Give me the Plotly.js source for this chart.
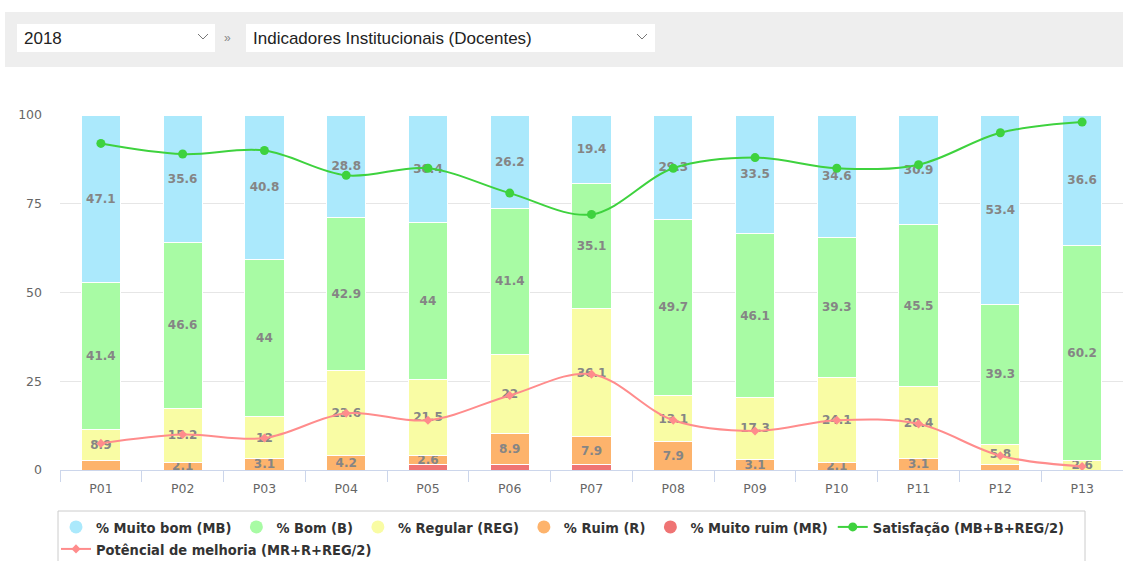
<!DOCTYPE html>
<html>
<head>
<meta charset="utf-8">
<script src="https://cdn.plot.ly/plotly-3.0.1.min.js"></script>
<style>
  body { margin: 0; background: #ffffff; }
  #chart { position: absolute; left: 0; top: 0; width: 1123px; height: 561px; }
  #hdr { position: absolute; left: 5px; top: 12px; width: 1118px; height: 55px; background: #eeeeee; z-index: 5;
         font-family: "Liberation Sans", Arial, sans-serif; }
  .sel { position: absolute; top: 12px; height: 28px; background: #ffffff; color: #222222; font-size: 17px; line-height: 29px; }
  .sel span { position: absolute; left: 7px; top: 0; }
  .sel svg { position: absolute; top: 9px; }
  #sep { position: absolute; left: 219px; top: 12px; line-height: 29px; font-size: 12px; color: #888888; }
</style>
</head>
<body>
<div id="chart"></div>
<div id="hdr">
  <div class="sel" style="left:12px;width:198px;"><span id="yearTxt"></span>
    <svg width="12" height="8" style="left:180px"><polyline points="1,1 6,6 11,1" fill="none" stroke="#777" stroke-width="1"/></svg>
  </div>
  <div id="sep">&raquo;</div>
  <div class="sel" style="left:241px;width:409px;"><span id="viewTxt"></span>
    <svg width="12" height="8" style="left:390px"><polyline points="1,1 6,6 11,1" fill="none" stroke="#777" stroke-width="1"/></svg>
  </div>
</div>
<script>
// ---------- data ----------
const yearLabel = '2018';
const viewLabel = 'Indicadores Institucionais (Docentes)';
const categories = ['P01','P02','P03','P04','P05','P06','P07','P08','P09','P10','P11','P12','P13'];
const muitoBom   = [47.1, 35.6, 40.8, 28.8, 30.4, 26.2, 19.4, 29.3, 33.5, 34.6, 30.9, 53.4, 36.6];
const bom        = [41.4, 46.6, 44, 42.9, 44, 41.4, 35.1, 49.7, 46.1, 39.3, 45.5, 39.3, 60.2];
const regular    = [8.9, 15.2, 12, 23.6, 21.5, 22, 36.1, 13.1, 17.3, 24.1, 20.4, 5.8, 2.6];
const ruim       = [2.6, 2.1, 3.1, 4.2, 2.6, 8.9, 7.9, 7.9, 3.1, 2.1, 3.1, 1.5, 0];
const muitoRuim  = [0, 0, 0, 0, 1.5, 1.5, 1.5, 0, 0, 0, 0, 0, 0];
const satisfacao = [92, 89, 90, 83, 85, 78, 72, 85, 88, 85, 86, 95, 98];
const potencial  = [7.5, 10, 9, 16, 14, 21, 27, 14, 11, 14, 13, 4, 1];
const ruimHiddenLabels = ['P01', 'P12'];
const yTicks = [0, 25, 50, 75, 100];
const seriesNames = ['% Muito bom (MB)', '% Bom (B)', '% Regular (REG)', '% Ruim (R)', '% Muito ruim (MR)',
                     'Satisfação (MB+B+REG/2)', 'Potêncial de melhoria (MR+R+REG/2)'];

document.getElementById('yearTxt').textContent = yearLabel;
document.getElementById('viewTxt').textContent = viewLabel;

// ---------- styles ----------
const colors = { mb: '#abe9fc', b: '#a8fba4', reg: '#f9fca4', r: '#fdb36c', mr: '#ef7474', sat: '#3ed23e', pot: '#ff8c8c' };
const labelFont = { family: 'DejaVu Sans, sans-serif', size: 12, color: '#858585', weight: 'bold' };
const legendFont = { family: 'DejaVu Sans Condensed, DejaVu Sans, sans-serif', size: 14.5, color: '#333333', weight: 'bold' };

function barTrace(vals, color, labels) {
  return {
    type: 'bar', x: categories, y: vals,
    marker: { color: color, line: { color: '#ffffff', width: 1 } },
    text: labels, textposition: 'inside', insidetextanchor: 'middle', constraintext: 'none', textangle: 0,
    textfont: labelFont, showlegend: false, hoverinfo: 'x+y'
  };
}
const noLabels = categories.map(() => '');
const toLabels = arr => arr.map(v => v > 0 ? String(v) : '');
const ruimLabels = ruim.map((v, i) => (v > 0 && ruimHiddenLabels.indexOf(categories[i]) < 0) ? String(v) : '');

function legendDummy(name, color) {
  return { type: 'scatter', mode: 'markers', x: [null], y: [null], name: name, legend: 'legend',
           marker: { symbol: 'circle', size: 13, color: color }, hoverinfo: 'skip' };
}

const traces = [
  barTrace(muitoRuim, colors.mr, noLabels),
  barTrace(ruim, colors.r, ruimLabels),
  barTrace(regular, colors.reg, toLabels(regular)),
  barTrace(bom, colors.b, toLabels(bom)),
  barTrace(muitoBom, colors.mb, toLabels(muitoBom)),
  legendDummy(seriesNames[0], colors.mb),
  legendDummy(seriesNames[1], colors.b),
  legendDummy(seriesNames[2], colors.reg),
  legendDummy(seriesNames[3], colors.r),
  legendDummy(seriesNames[4], colors.mr),
  { type: 'scatter', mode: 'lines+markers', x: categories, y: satisfacao, name: seriesNames[5], legend: 'legend',
    line: { color: colors.sat, width: 2, shape: 'spline', smoothing: 1 },
    marker: { symbol: 'circle', size: 9, color: colors.sat } },
  { type: 'scatter', mode: 'lines+markers', x: categories, y: potencial, name: seriesNames[6], legend: 'legend2',
    line: { color: colors.pot, width: 2, shape: 'spline', smoothing: 1 },
    marker: { symbol: 'diamond', size: 7, color: colors.pot } }
];

const W = 1123, H = 561, ML = 60, MR = 0, MT = 115, MB = 91;
const PW = W - ML - MR, PH = H - MT - MB;
const px2x = px => (px - ML) / PW;
const px2y = py => (H - MB - py) / PH;
const cx = px => px / W;
const cy = py => (H - py) / H;

const layout = {
  width: W, height: H, autosize: false,
  margin: { l: ML, r: MR, t: MT, b: MB, pad: 0, autoexpand: false },
  paper_bgcolor: '#ffffff', plot_bgcolor: '#ffffff',
  barmode: 'stack', barnorm: 'percent', bargap: 0.52,
  font: { family: 'DejaVu Sans, sans-serif', color: '#666666' },
  xaxis: {
    type: 'category', categoryorder: 'array', categoryarray: categories, range: [-0.5, 12.5],
    showline: true, linecolor: '#ccd6eb', linewidth: 1,
    ticks: 'outside', tickson: 'boundaries', ticklen: 11, tickcolor: '#ccd6eb', tickwidth: 1,
    ticklabelstandoff: 7,
    showgrid: false, zeroline: false, fixedrange: true,
    tickfont: { family: 'DejaVu Sans, sans-serif', size: 12.5, color: '#666666' }
  },
  yaxis: {
    range: [0, 100], tickvals: yTicks, ticktext: yTicks.map(String),
    showgrid: true, gridcolor: '#e6e6e6', gridwidth: 1, zeroline: false, showline: false, ticks: '',
    ticklabelstandoff: 17, fixedrange: true,
    tickfont: { family: 'DejaVu Sans, sans-serif', size: 12.5, color: '#666666' }
  },
  legend: {
    orientation: 'h', xref: 'container', yref: 'container', x: cx(56), xanchor: 'left', y: cy(527), yanchor: 'middle',
    borderwidth: 0, bgcolor: 'rgba(0,0,0,0)', traceorder: 'normal', font: legendFont
  },
  legend2: {
    orientation: 'h', xref: 'container', yref: 'container', x: cx(56), xanchor: 'left', y: cy(549), yanchor: 'middle',
    borderwidth: 0, bgcolor: 'rgba(0,0,0,0)', traceorder: 'normal', font: legendFont
  },
  shapes: [
    { type: 'rect', xref: 'paper', yref: 'paper', x0: px2x(58), x1: px2x(1085), y0: px2y(511), y1: px2y(580),
      line: { color: '#cccccc', width: 1 }, fillcolor: 'rgba(0,0,0,0)', layer: 'below' }
  ],
  showlegend: true
};

Plotly.newPlot('chart', traces, layout, { displayModeBar: false, staticPlot: true });
</script>
</body>
</html>
